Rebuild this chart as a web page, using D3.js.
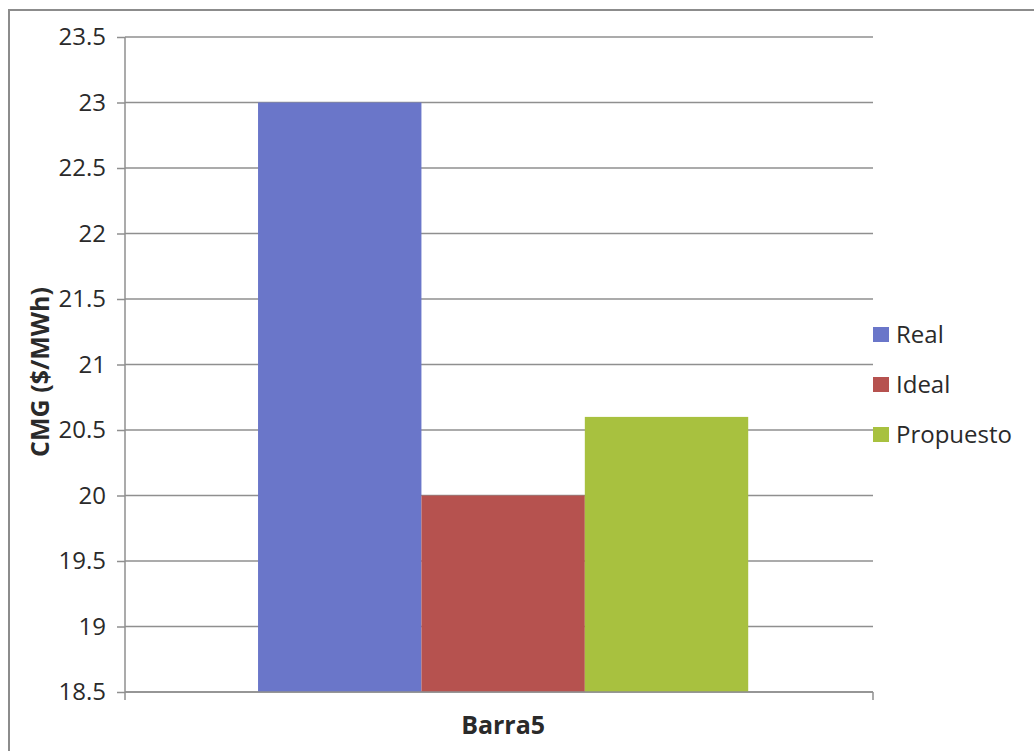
<!DOCTYPE html>
<html><head><meta charset="utf-8">
<script src="https://cdn.jsdelivr.net/npm/d3@7"></script>
<style>body{margin:0;background:#fff;} svg{display:block;font-family:"Open Sans",Lato,sans-serif;}</style>
</head><body>
<script>
const categories = ["Barra5"];
const seriesNames = ["Real", "Ideal", "Propuesto"];
const realValues = [23.0];
const idealValues = [20.0];
const propuestoValues = [20.6];
const seriesColors = ["#6a76c9", "#b6524f", "#a8c13f"];
const yTicks = [18.5, 19, 19.5, 20, 20.5, 21, 21.5, 22, 22.5, 23, 23.5];
const yTitle = "CMG ($/MWh)";

(function () {
const W = 1034, H = 751;
const svg = d3.select("body").append("svg").attr("width", W).attr("height", H);
svg.append("rect").attr("width", W).attr("height", H).attr("fill", "#fff");
// outer chart border
svg.append("path").attr("d", `M9,${H} L9,10 L${W},10`).attr("fill","none").attr("stroke","#8c8c8c").attr("stroke-width",2);

const pLeft = 125, pRight = 873, pTop = 37, pBottom = 692;
const y = d3.scaleLinear().domain([18.5, 23.5]).range([pBottom, pTop]);
const x0 = d3.scaleBand().domain(categories).range([pLeft, pRight]).paddingInner(0).paddingOuter(0.263).align(0.516);
const x1 = d3.scaleBand().domain(seriesNames).range([0, x0.bandwidth()]).padding(0);

// gridlines
svg.append("g").selectAll("line").data(yTicks).join("line")
  .attr("x1", pLeft).attr("x2", pRight).attr("y1", d => y(d)).attr("y2", d => y(d))
  .attr("stroke", "#8f8f8f").attr("stroke-width", 1.5);

const data = categories.map((c, i) => ({cat: c, vals: [realValues[i], idealValues[i], propuestoValues[i]]}));
const g = svg.append("g");
data.forEach(d => {
  g.selectAll(null).data(d.vals.map((v, j) => ({v, s: seriesNames[j], c: seriesColors[j]}))).join("rect")
    .attr("x", e => x0(d.cat) + x1(e.s)).attr("width", x1.bandwidth())
    .attr("y", e => y(e.v)).attr("height", e => pBottom - y(e.v)).attr("fill", e => e.c);
});

// y axis
const yAxis = d3.axisLeft(y).tickValues(yTicks).tickFormat(d3.format("")).tickSize(8).tickPadding(11);
const ya = svg.append("g").attr("transform", `translate(${pLeft},0)`).call(yAxis);
ya.select(".domain").remove();
ya.selectAll(".tick line").attr("stroke", "#8f8f8f").attr("stroke-width", 1.5);
ya.selectAll("text").attr("font-size", 24).attr("fill", "#2a2a2a").attr("font-family", '"Open Sans",sans-serif');
svg.append("line").attr("x1", pLeft).attr("x2", pLeft).attr("y1", pTop).attr("y2", pBottom + 8).attr("stroke", "#8f8f8f").attr("stroke-width", 1.5);

// x axis
const xAxis = d3.axisBottom(x0).tickSize(0).tickPadding(24);
const xa = svg.append("g").attr("transform", `translate(0,${pBottom})`).call(xAxis);
xa.select(".domain").remove();
xa.selectAll("text").attr("font-size", 25).attr("font-weight", "bold").attr("fill", "#2a2a2a").attr("font-family", '"Open Sans",sans-serif');
svg.append("line").attr("x1", pLeft).attr("x2", pRight).attr("y1", pBottom).attr("y2", pBottom).attr("stroke", "#8f8f8f").attr("stroke-width", 1.5);
svg.append("line").attr("x1", pRight).attr("x2", pRight).attr("y1", pBottom).attr("y2", pBottom + 8).attr("stroke", "#8f8f8f").attr("stroke-width", 1.5);

// y title
svg.append("text").attr("transform", `translate(49,372) rotate(-90)`)
  .attr("text-anchor", "middle").attr("font-size", 25).attr("font-weight", "bold").attr("fill", "#2a2a2a").text(yTitle);

// legend
const leg = svg.append("g").selectAll("g").data(seriesNames).join("g")
  .attr("transform", (d, i) => `translate(873,${334.5 + i * 50})`);
leg.append("rect").attr("x", 0).attr("y", -7.5).attr("width", 16).attr("height", 15).attr("fill", (d, i) => seriesColors[i]);
leg.append("text").attr("x", 23).attr("y", 8).attr("font-size", 24).attr("fill", "#2a2a2a").text(d => d);
})();
</script>
</body></html>
